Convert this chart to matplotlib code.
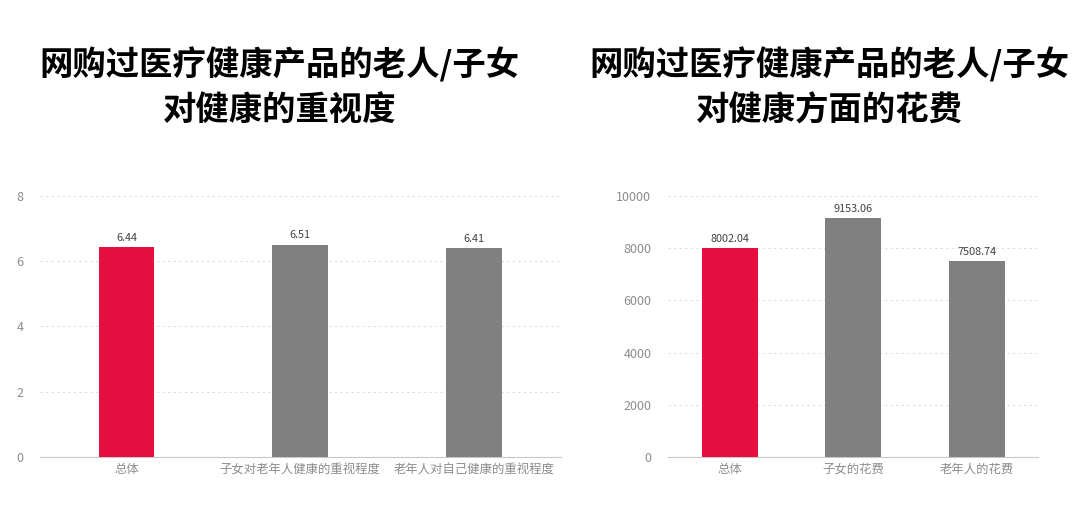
import matplotlib.pyplot as plt

plt.rcParams['font.family'] = ['Noto Sans CJK SC', 'DejaVu Sans']

# left chart: attention to health
left_title = "网购过医疗健康产品的老人/子女\n对健康的重视度"
left_cats = ["总体", "子女对老年人健康的重视程度", "老年人对自己健康的重视程度"]
left_vals = [6.44, 6.51, 6.41]
left_ticks = [0, 2, 4, 6, 8]

# right chart: spending on health
right_title = "网购过医疗健康产品的老人/子女\n对健康方面的花费"
right_cats = ["总体", "子女的花费", "老年人的花费"]
right_vals = [8002.04, 9153.06, 7508.74]
right_ticks = [0, 2000, 4000, 6000, 8000, 10000]

RED = "#e5103f"
GRAY = "#808080"
TICK_COLOR = "#8c8c8c"


def draw_bars(ax, cats, vals, ticks, width, fmt):
    x = list(range(len(cats)))
    colors = [RED] + [GRAY] * (len(cats) - 1)
    bars = ax.bar(x, vals, width=width, color=colors, zorder=3)
    for b, v in zip(bars, vals):
        ax.annotate(fmt.format(v), (b.get_x() + b.get_width() / 2, v),
                    xytext=(0, 3), textcoords="offset points",
                    ha="center", va="bottom", fontsize=7.8, color="#404040")
    ax.set_xlim(-0.5, len(cats) - 0.5)
    ax.set_ylim(0, ticks[-1])
    ax.set_yticks(ticks)
    ax.set_xticks(x)
    ax.set_xticklabels(cats, fontsize=8.9, color=TICK_COLOR)
    ax.tick_params(axis="y", length=0, pad=12, labelsize=9, labelcolor=TICK_COLOR)
    ax.tick_params(axis="x", length=0, pad=4)
    for s in ["top", "right", "left"]:
        ax.spines[s].set_visible(False)
    ax.spines["bottom"].set_color("#c8c8c8")
    ax.grid(axis="y", linestyle=(0, (2, 3)), color="#dddddd", linewidth=0.8, zorder=0)
    ax.set_axisbelow(True)


fig = plt.figure(figsize=(10.8, 5.07), dpi=100)

ax1 = fig.add_axes([0.037, 0.0986, 0.482, 0.515])
draw_bars(ax1, left_cats, left_vals, left_ticks, 0.32, "{:.2f}")

ax2 = fig.add_axes([0.6185, 0.0986, 0.343, 0.515])
draw_bars(ax2, right_cats, right_vals, right_ticks, 0.455, "{:.2f}")

fig.text(0.259, 0.828, left_title, ha="center", va="center", fontsize=24,
         fontweight="bold", linespacing=1.45)
fig.text(0.768, 0.828, right_title, ha="center", va="center", fontsize=24,
         fontweight="bold", linespacing=1.45)

fig.savefig("out.png", dpi=100)
